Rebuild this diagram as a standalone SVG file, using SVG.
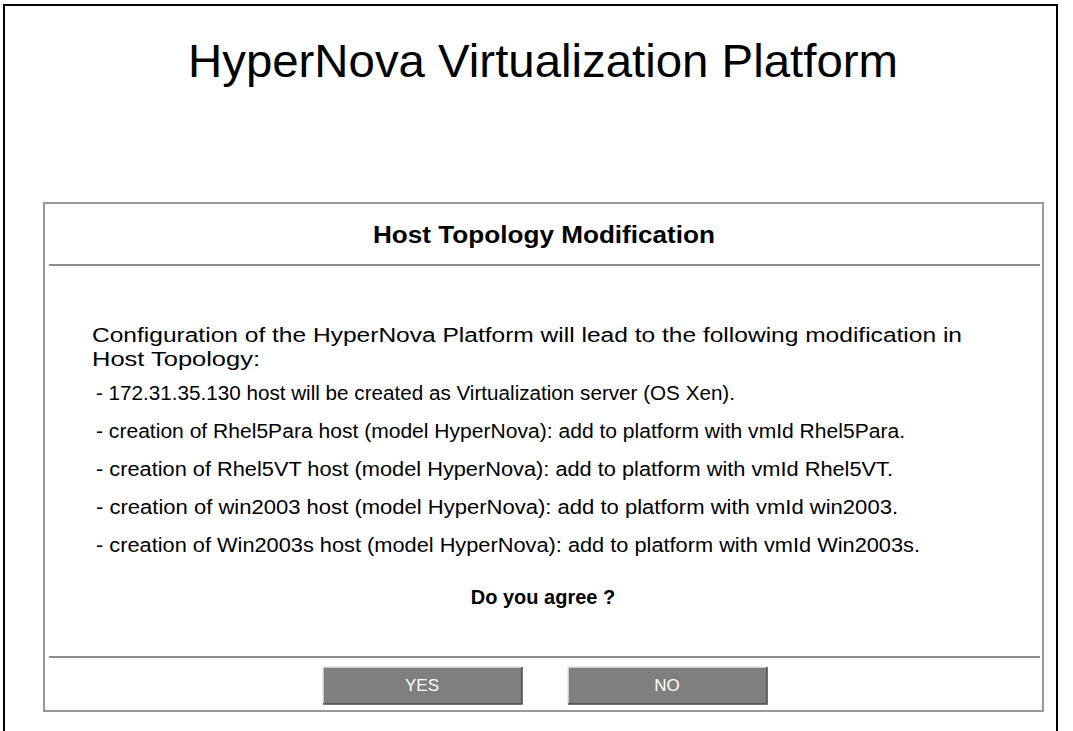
<svg xmlns="http://www.w3.org/2000/svg" width="1073" height="731" viewBox="0 0 1073 731">
<style>
.t{font-family:"Liberation Sans",Arial,sans-serif;fill:#000}
.body{font-size:20px}
.b{font-weight:bold}
.sep{stroke:#8c8c8c;stroke-width:2;fill:none}
.btn{fill:#7f7f7f}
.btxt{font-family:"Liberation Sans",Arial,sans-serif;font-size:17px;fill:#fff;text-anchor:middle}
</style>
<rect width="1073" height="731" fill="#fff"/>
<path d="M4,731 V5 H1057 V731" fill="none" stroke="#000" stroke-width="2"/>
<text id="title" class="t" x="543" y="77" font-size="46" text-anchor="middle" textLength="710" lengthAdjust="spacingAndGlyphs">HyperNova Virtualization Platform</text>
<g id="panel">
<rect x="44" y="203" width="999" height="508" fill="#fff" stroke="#999" stroke-width="2"/>
<text class="t b" x="544" y="243" font-size="23" text-anchor="middle" textLength="342" lengthAdjust="spacingAndGlyphs">Host Topology Modification</text>
<line class="sep" x1="49" y1="265" x2="1040" y2="265"/>
<text class="t body" x="92" y="342" textLength="870" lengthAdjust="spacingAndGlyphs">Configuration of the HyperNova Platform will lead to the following modification in</text>
<text class="t body" x="92" y="366" textLength="168" lengthAdjust="spacingAndGlyphs">Host Topology:</text>
<text class="t body" x="96" y="400" font-size="18" textLength="639" lengthAdjust="spacingAndGlyphs">- 172.31.35.130 host will be created as Virtualization server (OS Xen).</text>
<text class="t body" x="96" y="438" font-size="18" textLength="809" lengthAdjust="spacingAndGlyphs">- creation of Rhel5Para host (model HyperNova): add to platform with vmId Rhel5Para.</text>
<text class="t body" x="96" y="476" font-size="18" textLength="797" lengthAdjust="spacingAndGlyphs">- creation of Rhel5VT host (model HyperNova): add to platform with vmId Rhel5VT.</text>
<text class="t body" x="96" y="514" font-size="18" textLength="802" lengthAdjust="spacingAndGlyphs">- creation of win2003 host (model HyperNova): add to platform with vmId win2003.</text>
<text class="t body" x="96" y="552" font-size="18" textLength="824" lengthAdjust="spacingAndGlyphs">- creation of Win2003s host (model HyperNova): add to platform with vmId Win2003s.</text>
<text class="t b" x="543" y="604" font-size="20" text-anchor="middle">Do you agree ?</text>
<line class="sep" x1="49" y1="657" x2="1040" y2="657"/>
</g>
<g id="btn-yes">
<rect class="btn" x="323" y="667" width="199" height="37"/>
<path d="M323,704 V667 H522" fill="none" stroke="#e6e6e6" stroke-width="1.5"/>
<path d="M323,704 H522 V667" fill="none" stroke="#4a4a4a" stroke-width="1.5"/>
<text class="btxt" x="422" y="691">YES</text>
</g>
<g id="btn-no">
<rect class="btn" x="568" y="667" width="199" height="37"/>
<path d="M568,704 V667 H767" fill="none" stroke="#e6e6e6" stroke-width="1.5"/>
<path d="M568,704 H767 V667" fill="none" stroke="#4a4a4a" stroke-width="1.5"/>
<text class="btxt" x="667" y="691">NO</text>
</g>
<g id="connectors"/>
</svg>
